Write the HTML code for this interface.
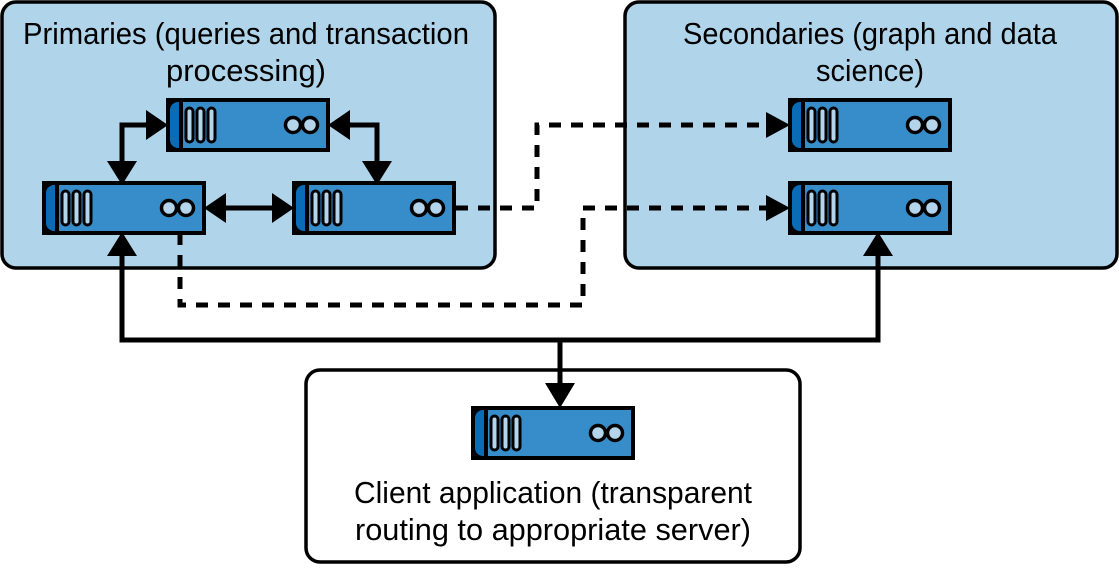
<!DOCTYPE html>
<html><head><style>
html,body{margin:0;padding:0;background:#fff;}
svg text{font-family:"Liberation Sans",sans-serif;font-size:31px;fill:#000;}
</style></head><body>
<svg width="1119" height="565" viewBox="0 0 1119 565" xmlns="http://www.w3.org/2000/svg">
<defs>
<g id="srv">
<rect x="0" y="0" width="160" height="50" fill="#368dca" stroke="#000" stroke-width="4"/>
<path d="M13,0 H10 A10,10 0 0 0 0,10 V40 A10,10 0 0 0 10,50 H13 Z" fill="#0a6cb6" stroke="#000" stroke-width="4"/>
<rect x="18" y="8" width="7" height="34" rx="3.5" fill="#b3d4ea" stroke="#000" stroke-width="3"/>
<rect x="29" y="8" width="7" height="34" rx="3.5" fill="#b3d4ea" stroke="#000" stroke-width="3"/>
<rect x="40" y="8" width="7" height="34" rx="3.5" fill="#b3d4ea" stroke="#000" stroke-width="3"/>
<circle cx="125" cy="25" r="7.5" fill="#b3d4ea" stroke="#000" stroke-width="3.5"/>
<circle cx="142" cy="25" r="7.5" fill="#b3d4ea" stroke="#000" stroke-width="3.5"/>
</g>
</defs>
<rect x="2" y="2" width="493" height="266" rx="14" fill="#b0d4ea" stroke="#000" stroke-width="3.5"/>
<rect x="625" y="2" width="492" height="266" rx="14" fill="#b0d4ea" stroke="#000" stroke-width="3.5"/>
<rect x="306" y="370" width="494" height="192" rx="14" fill="#fff" stroke="#000" stroke-width="3.5"/>
<text x="246" y="44" text-anchor="middle" textLength="446" lengthAdjust="spacingAndGlyphs">Primaries (queries and transaction</text>
<text x="246" y="81" text-anchor="middle" textLength="160" lengthAdjust="spacingAndGlyphs">processing)</text>
<text x="870" y="44" text-anchor="middle" textLength="374" lengthAdjust="spacingAndGlyphs">Secondaries (graph and data</text>
<text x="870" y="81" text-anchor="middle" textLength="108" lengthAdjust="spacingAndGlyphs">science)</text>
<text x="553" y="503" text-anchor="middle" textLength="398" lengthAdjust="spacingAndGlyphs">Client application (transparent</text>
<text x="553" y="540" text-anchor="middle" textLength="396" lengthAdjust="spacingAndGlyphs">routing to appropriate server)</text>
<g fill="none" stroke="#000" stroke-width="5" stroke-dasharray="12,10">
<path d="M456,208 H537 V125 H772"/>
<path d="M180,233 V305 H583 V208 H772"/>
</g>
<g fill="none" stroke="#000" stroke-width="5">
<path d="M150,125 H122 V165"/>
<path d="M346,125 H377 V165"/>
<path d="M222,208 H276"/>
<path d="M122,252 V340 H878 V252"/>
<path d="M560,340 V388"/>
</g>
<g fill="#000">
<polygon points="168,125 146,110 146,140"/>
<polygon points="122,185 107,161 137,161"/>
<polygon points="328,125 350,110 350,140"/>
<polygon points="377,185 362,161 392,161"/>
<polygon points="204,208 226,193 226,223"/>
<polygon points="294,208 272,193 272,223"/>
<polygon points="122,232 107,256 137,256"/>
<polygon points="878,232 863,256 893,256"/>
<polygon points="560,408 545,383 575,383"/>
<polygon points="790,125 766,112 766,138"/>
<polygon points="790,208 766,195 766,221"/>
</g>
<use href="#srv" x="168" y="100"/>
<use href="#srv" x="44" y="183"/>
<use href="#srv" x="294" y="183"/>
<use href="#srv" x="790" y="100"/>
<use href="#srv" x="790" y="183"/>
<use href="#srv" x="473" y="408"/>
</svg>
</body></html>
